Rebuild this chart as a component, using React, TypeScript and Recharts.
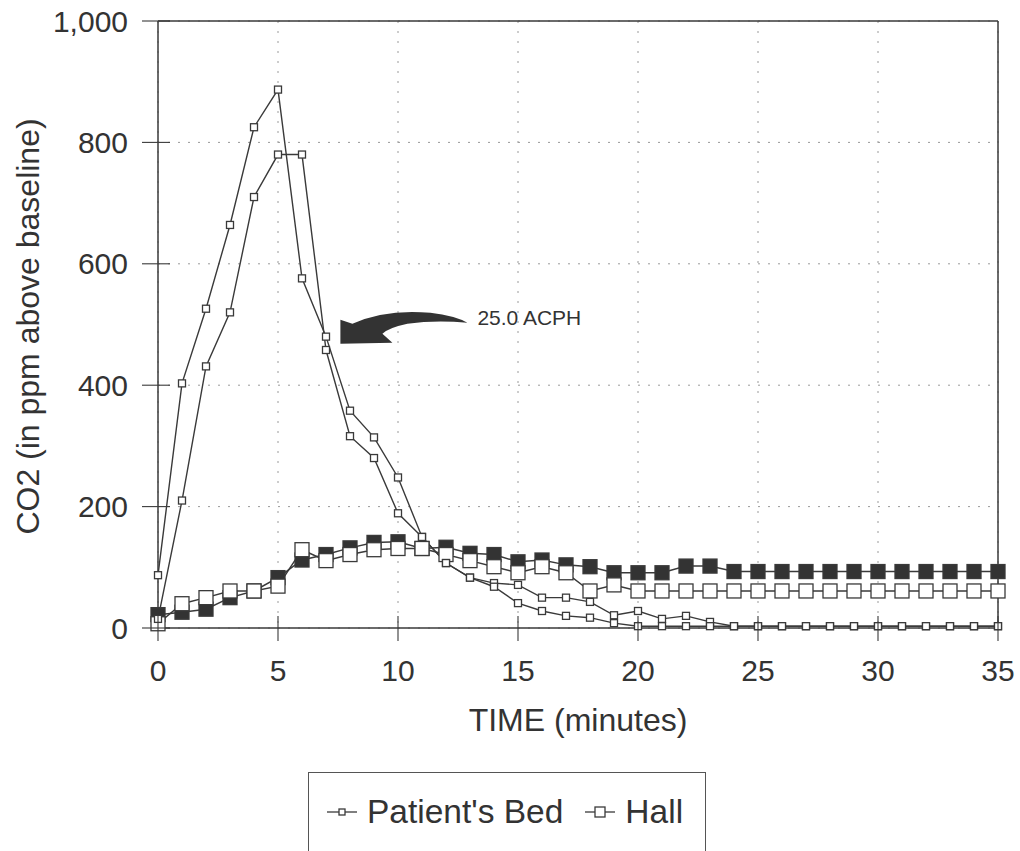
import { LineChart, Line, XAxis, YAxis, CartesianGrid, Legend, ReferenceLine, ReferenceDot } from 'recharts';

const minutes = [0, 1, 2, 3, 4, 5, 6, 7, 8, 9, 10, 11, 12, 13, 14, 15, 16, 17, 18, 19, 20, 21, 22, 23, 24, 25, 26, 27, 28, 29, 30, 31, 32, 33, 34, 35];

// CO2 in ppm above baseline, one value per minute
const bedA = [87, 403, 526, 664, 825, 887, 576, 480, 358, 314, 248, 150, 107, 83, 74, 71, 50, 50, 43, 21, 28, 15, 20, 10, 3, 3, 3, 3, 3, 3, 3, 3, 3, 3, 3, 3];
const bedB = [15, 210, 431, 520, 710, 780, 780, 458, 316, 280, 189, 150, 107, 83, 68, 41, 28, 20, 17, 8, 3, 3, 3, 3, 3, 3, 3, 3, 3, 3, 3, 3, 3, 3, 3, 3];
const hallFilled = [22, 26, 31, 50, 61, 83, 112, 121, 132, 141, 142, 131, 133, 123, 121, 109, 112, 104, 101, 91, 91, 91, 102, 102, 93, 93, 93, 93, 93, 93, 93, 93, 93, 93, 93, 93];
const hallOpen = [7, 40, 50, 61, 61, 69, 129, 111, 121, 129, 131, 131, 121, 111, 101, 91, 101, 91, 61, 71, 61, 61, 61, 61, 61, 61, 61, 61, 61, 61, 61, 61, 61, 61, 61, 61];

const xTicks = [0, 5, 10, 15, 20, 25, 30, 35];
const yTicks = [0, 200, 400, 600, 800, 1000];

const legendKeys = ['bedA', 'hallOpen'];
const note = { x: 7.6, y: 488, label: '25.0 ACPH' };

const data = minutes.map((m, i) => ({
  minute: m,
  bedA: bedA[i],
  bedB: bedB[i],
  hallFilled: hallFilled[i],
  hallOpen: hallOpen[i],
}));

const INK = '#3a3a3a';

const SmallSquare = (props: any) => {
  const { cx, cy, key } = props;
  if (cx == null || cy == null) return null;
  return <rect key={key} x={cx - 3.5} y={cy - 3.5} width={7} height={7} fill="#fff" stroke={INK} strokeWidth={1.3} />;
};

const BigSquare = (fill: string) => (props: any) => {
  const { cx, cy, key } = props;
  if (cx == null || cy == null) return null;
  return <rect key={key} x={cx - 7} y={cy - 7} width={14} height={14} fill={fill} stroke={INK} strokeWidth={1.3} />;
};

const XTick = ({ x, y, payload }: any) => (
  <g>
    <line x1={x} x2={x} y1={y - 12} y2={y + 13} stroke={INK} strokeWidth={1.1} />
    <text x={x} y={y + 53} textAnchor="middle" fontSize={30} fill="#333">{payload.value}</text>
  </g>
);

const YTick = ({ x, y, payload }: any) => (
  <g>
    <line x1={x - 16} x2={x + 12} y1={y} y2={y} stroke={INK} strokeWidth={1.1} />
    <text x={x - 30} y={y + 10.5} textAnchor="end" fontSize={30} fill="#333">
      {payload.value.toLocaleString('en-US')}
    </text>
  </g>
);

const Arrow = (props: any) => {
  const { cx, cy } = props;
  if (cx == null || cy == null) return null;
  return (
    <g>
      <path
        d={`M${cx},${cy - 12} L${cx + 12},${cy - 8} Q${cx + 45},${cy - 23} ${cx + 90},${cy - 19} Q${cx + 115},${cy - 16} ${cx + 127},${cy - 9} Q${cx + 95},${cy - 12} ${cx + 67},${cy - 8} Q${cx + 48},${cy - 4} ${cx + 42},${cy + 2} L${cx + 52},${cy + 11} L${cx},${cy + 12} Z`}
        fill="#333"
      />
      <text x={cx + 137} y={cy - 7} fontSize={21} fill="#333">{note.label}</text>
    </g>
  );
};

const LegendBox = (props: any) => {
  const all = props.payload || [];
  const items = legendKeys.map((k) => all.find((it: any) => it.dataKey === k)).filter(Boolean);
  return (
    <div
      style={{
        border: '1.5px solid #555',
        height: 100,
        boxSizing: 'border-box',
        display: 'flex',
        alignItems: 'center',
        paddingLeft: 18,
        paddingBottom: 20,
        fontSize: 33.5,
        lineHeight: '36px',
        color: '#333',
        whiteSpace: 'nowrap',
      }}
    >
      {items.map((it: any) => {
        const big = it.dataKey === 'hallOpen';
        const s = big ? 10 : 6;
        return (
          <span key={it.value} style={{ display: 'flex', alignItems: 'center', marginRight: 22 }}>
            <svg width={30} height={20} style={{ marginRight: 10 }}>
              <line x1={0} x2={30} y1={10} y2={10} stroke={INK} strokeWidth={1.3} />
              <rect x={15 - s / 2} y={10 - s / 2} width={s} height={s} fill="#fff" stroke={INK} strokeWidth={1.3} />
            </svg>
            {it.value}
          </span>
        );
      })}
    </div>
  );
};

export default function App() {
  return (
    <div style={{ position: 'absolute', left: 0, top: 0, width: 1020, height: 851, background: '#fff', fontFamily: '"Liberation Sans", Arial, sans-serif' }}>
      <LineChart width={1020} height={851} data={data} margin={{ top: 21, right: 22, left: 0, bottom: 0 }}>
        <CartesianGrid strokeDasharray="2 8" stroke="#9a9a9a" />
        <XAxis
          dataKey="minute"
          type="number"
          domain={[0, 35]}
          ticks={xTicks}
          height={144}
          tickSize={0}
          tickMargin={0}
          tickLine={false}
          tick={<XTick />}
          axisLine={{ stroke: INK, strokeWidth: 1.5 }}
          label={(p: any) => {
            const vb = p.viewBox;
            return (
              <text x={vb.x + vb.width / 2} y={vb.y + 103} textAnchor="middle" fontSize={32} fill="#333">
                TIME (minutes)
              </text>
            );
          }}
        />
        <YAxis
          type="number"
          domain={[0, 1000]}
          ticks={yTicks}
          width={158}
          tickSize={0}
          tickMargin={0}
          tickLine={false}
          tick={<YTick />}
          axisLine={{ stroke: INK, strokeWidth: 1.5 }}
          label={(p: any) => {
            const vb = p.viewBox;
            const cx = vb.x + 28;
            const cy = vb.y + vb.height / 2 + 2;
            return (
              <text x={cx} y={cy} transform={`rotate(-90, ${cx}, ${cy})`} textAnchor="middle" dominantBaseline="central" fontSize={32} fill="#333">
                CO2 (in ppm above baseline)
              </text>
            );
          }}
        />
        <ReferenceLine y={1000} stroke={INK} strokeWidth={1.5} />
        <ReferenceLine x={35} stroke={INK} strokeWidth={1.5} />
        <Line dataKey="hallFilled" name="Hall (filled)" legendType="none" stroke={INK} strokeWidth={1.5} dot={BigSquare('#333')} isAnimationActive={false} />
        <Line dataKey="hallOpen" name="Hall" stroke={INK} strokeWidth={1.5} dot={BigSquare('#fff')} isAnimationActive={false} />
        <Line dataKey="bedA" name="Patient's Bed" stroke={INK} strokeWidth={1.4} dot={SmallSquare} isAnimationActive={false} />
        <Line dataKey="bedB" name="Patient's Bed 2" legendType="none" stroke={INK} strokeWidth={1.4} dot={SmallSquare} isAnimationActive={false} />
        <ReferenceDot x={note.x} y={note.y} shape={Arrow} />
        <Legend
          verticalAlign="bottom"
          content={<LegendBox />}
          wrapperStyle={{ position: 'absolute', left: 308, top: 772, bottom: 'auto', width: 398, height: 79 }}
        />
      </LineChart>
    </div>
  );
}
